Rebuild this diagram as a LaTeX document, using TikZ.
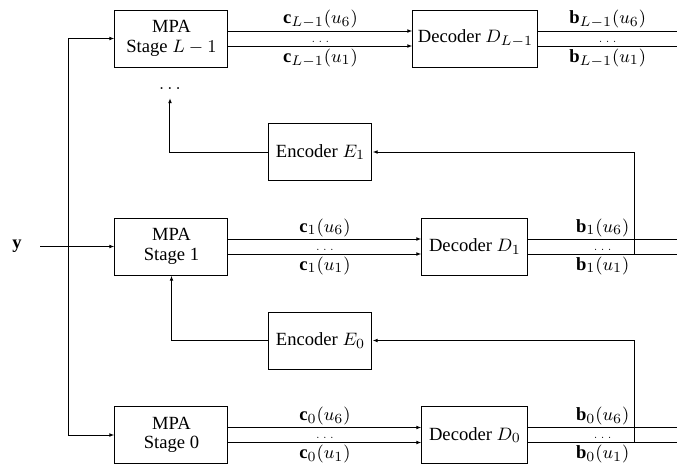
\documentclass[tikz,border=0pt]{standalone}
\usepackage{fontspec}
\setmainfont{Liberation Serif}
\usetikzlibrary{arrows.meta,calc}
\begin{document}
\begin{tikzpicture}[x=0.5pt,y=-0.5pt, line width=0.5pt,
  every node/.style={font=\fontsize{9.3}{10}\selectfont},
  blk/.style={draw, minimum height=28.5pt, inner sep=0pt, align=center},
  mpa/.style={blk, minimum width=56.5pt, font=\fontsize{9.3}{9.8}\selectfont},
  enc/.style={blk, minimum width=51.5pt},
  arr/.style={-{Latex[length=2.6pt,width=1.9pt]}},
  lab/.style={inner sep=1pt},
  ddots/.style={font=\tiny, inner sep=0.5pt, above=1.2pt}]
\useasboundingbox (0,0) rectangle (677,468);

% boxes
\node[mpa] (mpaT) at (171.5,38.5) {MPA\\Stage $L-1$};
\node[blk, minimum width=62.5pt] (decT) at (475.5,38.5) {Decoder $D_{L-1}$};
\node[inner sep=4pt] (dots) at (170,88.5) {$\ldots$};
\node[enc] (enc1) at (320.5,152) {Encoder $E_1$};
\node[mpa] (mpa1) at (171.5,246.5) {MPA\\Stage 1};
\node[blk, minimum width=53pt] (dec1) at (475,246.5) {Decoder $D_1$};
\node[enc] (enc0) at (320.5,340.5) {Encoder $E_0$};
\node[mpa] (mpa0) at (171.5,435) {MPA\\Stage 0};
\node[blk, minimum width=53pt] (dec0) at (475,435) {Decoder $D_0$};
\node[inner xsep=9pt] (y) at (17,246.5) {$\mathbf{y}$};

% helper coordinates
\coordinate (re) at (677,0);
\coordinate (fb) at (635,0);
\coordinate (j) at (69,246.5);
\foreach \n in {T,1,0}{
  \coordinate (mo\n a) at ([yshift=3.75pt]mpa\n.east);
  \coordinate (mo\n b) at ([yshift=-3.75pt]mpa\n.east);
  \coordinate (di\n a) at ([yshift=3.75pt]dec\n.west);
  \coordinate (di\n b) at ([yshift=-3.75pt]dec\n.west);
  \coordinate (do\n a) at ([yshift=3.75pt]dec\n.east);
  \coordinate (do\n b) at ([yshift=-3.75pt]dec\n.east);
}

% input
\draw[arr] (y) -- (mpa1);
\draw[arr] (j) |- (mpaT);
\draw[arr] (j) |- (mpa0);

% row L-1
\draw[arr] (moTa) -- node[lab,above]{$\mathbf{c}_{L-1}(u_6)$} (diTa);
\draw[arr] (moTb) -- node[ddots]{$\ldots$} node[lab,below]{$\mathbf{c}_{L-1}(u_1)$} (diTb);
\draw (doTa) -- node[lab,above]{$\mathbf{b}_{L-1}(u_6)$} (doTa -| re);
\draw (doTb) -- node[ddots]{$\ldots$} node[lab,below]{$\mathbf{b}_{L-1}(u_1)$} (doTb -| re);

% row 1
\draw[arr] (mo1a) -- node[lab,above]{$\mathbf{c}_{1}(u_6)$} (di1a);
\draw[arr] (mo1b) -- node[ddots]{$\ldots$} node[lab,below]{$\mathbf{c}_{1}(u_1)$} (di1b);
\draw (do1a) -- node[lab,above]{$\mathbf{b}_{1}(u_6)$} (do1a -| re);
\draw (do1b) -- node[ddots]{$\ldots$} node[lab,below]{$\mathbf{b}_{1}(u_1)$} (do1b -| re);

% row 0
\draw[arr] (mo0a) -- node[lab,above]{$\mathbf{c}_{0}(u_6)$} (di0a);
\draw[arr] (mo0b) -- node[ddots]{$\ldots$} node[lab,below]{$\mathbf{c}_{0}(u_1)$} (di0b);
\draw (do0a) -- node[lab,above]{$\mathbf{b}_{0}(u_6)$} (do0a -| re);
\draw (do0b) -- node[ddots]{$\ldots$} node[lab,below]{$\mathbf{b}_{0}(u_1)$} (do0b -| re);

% feedback
\coordinate (f1) at (do1b -| fb);
\coordinate (f0) at (do0b -| fb);
\draw[arr] (f1) |- (enc1);
\draw[arr] (f0) |- (enc0);
\draw[arr] (enc1) -| (dots);
\draw[arr] (enc0) -| (mpa1);
\end{tikzpicture}
\end{document}
